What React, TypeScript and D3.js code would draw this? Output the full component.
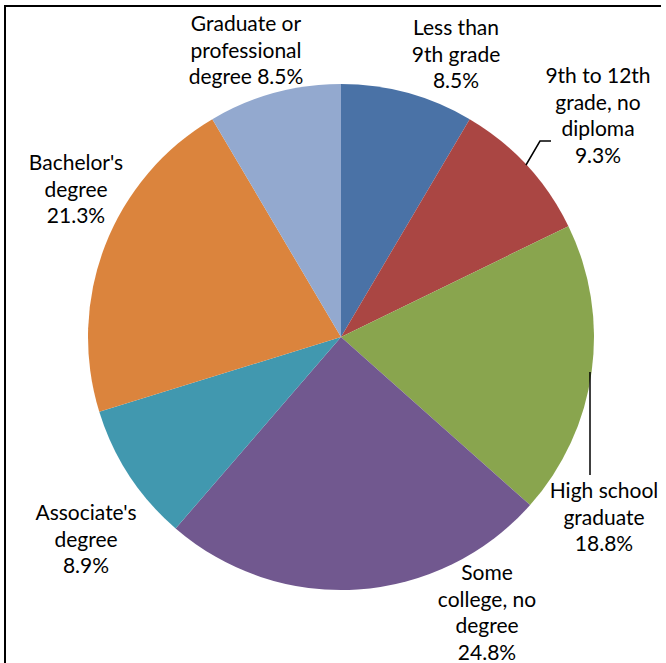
import React from "react";
import * as d3 from "d3";

const categories = [
  "Less than 9th grade",
  "9th to 12th grade, no diploma",
  "High school graduate",
  "Some college, no degree",
  "Associate's degree",
  "Bachelor's degree",
  "Graduate or professional degree",
];
const values = [8.5, 9.3, 18.8, 24.8, 8.9, 21.3, 8.5];
const labelLines = [
  ["Less than", "9th grade", "8.5%"],
  ["9th to 12th", "grade, no", "diploma", "9.3%"],
  ["High school", "graduate", "18.8%"],
  ["Some", "college, no", "degree", "24.8%"],
  ["Associate's", "degree", "8.9%"],
  ["Bachelor's", "degree", "21.3%"],
  ["Graduate or", "professional", "degree 8.5%"],
];
const colors = ["#4A72A6", "#AA4643", "#89A54E", "#71588F", "#4198AF", "#DB843D", "#93A9CF"];

// label layout (center x, first-line center y)
const labelPos = [
  [456, 28],
  [598, 76],
  [604, 491],
  [487, 573],
  [86, 513],
  [76, 163],
  [246, 24],
];
const lineH = 26.5;

export default function App() {
  const W = 666, H = 663;
  const cx = 341, cy = 337, r = 253;
  const pie = d3.pie<number>().sort(null).startAngle(0).endAngle(2 * Math.PI)(values);
  const arc = d3.arc<d3.PieArcDatum<number>>().innerRadius(0).outerRadius(r);
  return (
    <svg width={W} height={H} style={{ position: "absolute", left: 0, top: 0, background: "#fff" }}>
      <rect x={0} y={0} width={W} height={H} fill="#fff" />
      <g transform={`translate(${cx},${cy})`}>
        {pie.map((d, i) => (
          <path key={categories[i]} d={arc(d) || ""} fill={colors[i]} />
        ))}
      </g>
      <polyline points="526,165 540,141 551,141" fill="none" stroke="#000" strokeWidth={1.5} />
      <line x1={590} y1={372} x2={590} y2={475} stroke="#000" strokeWidth={1.5} />
      {labelLines.map((lines, i) => (
        <text key={i} textAnchor="middle" fontFamily="Lato, 'Open Sans', sans-serif" fontSize={21} fill="#000">
          {lines.map((t, j) => (
            <tspan key={j} x={labelPos[i][0]} y={labelPos[i][1] + j * lineH} dy="0.35em">
              {t}
            </tspan>
          ))}
        </text>
      ))}
      <line x1={5} y1={6} x2={661} y2={6} stroke="#000" strokeWidth={2} />
      <line x1={5} y1={5} x2={5} y2={H} stroke="#000" strokeWidth={2} />
    </svg>
  );
}
